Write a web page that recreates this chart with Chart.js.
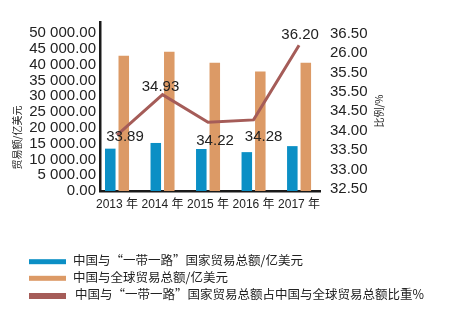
<!DOCTYPE html>
<html>
<head>
<meta charset="utf-8">
<script src="https://cdn.jsdelivr.net/npm/chart.js@4.4.1/dist/chart.umd.min.js"></script>
<style>
  html, body { margin: 0; padding: 0; background: #fff; }
  canvas { display: block; }
</style>
</head>
<body>
<canvas id="tradeChart" width="471" height="327"></canvas>
<script>
const years = [2013, 2014, 2015, 2016, 2017];
const beltRoadTrade = [13400, 15200, 13300, 12300, 14200];   // 亿美元
const globalTrade = [42800, 44100, 40600, 37800, 40600];     // 亿美元
const beltRoadShare = [33.89, 34.93, 34.22, 34.28, 36.20];   // %
const tradeTicks = [0, 5000, 10000, 15000, 20000, 25000, 30000, 35000, 40000, 45000, 50000];
const shareTickLabels = ["36.50", "26.00", "35.50", "35.50", "34.50", "34.00", "33.50", "33.00", "32.50"];
const seriesNames = [
    "中国与“一带一路”国家贸易总额/亿美元",
    "中国与全球贸易总额/亿美元",
    "中国与“一带一路”国家贸易总额占中国与全球贸易总额比重%"
];
const axisTitles = ["贸易额/亿美元", "比例/%"];

const BLUE = "#0b8fc5";
const ORANGE = "#dc9a66";
const RED = "#a55c58";
const INK = "#222";
const NUM_FONT = "'Liberation Sans', Arial, 'Noto Sans CJK SC', sans-serif";
const CJK_FONT = "'Noto Sans CJK SC', sans-serif";

// where each share value sits relative to its point
const shareLabelOffset = [[8, 2], [-2, -8], [7, 19], [10, 17], [1, -10]];

function thousands(v) {
    const [i, d] = v.toFixed(2).split(".");
    return i.replace(/\B(?=(\d{3})+(?!\d))/g, " ") + "." + d;
}

const points = arr => years.map((x, i) => ({ x: x, y: arr[i] }));

// value labels on the share line
const shareLabels = {
    id: "shareLabels",
    afterDatasetsDraw(chart) {
        const meta = chart.getDatasetMeta(2);
        const ctx = chart.ctx;
        ctx.save();
        ctx.font = "15px " + NUM_FONT;
        ctx.fillStyle = INK;
        ctx.textAlign = "center";
        ctx.textBaseline = "middle";
        meta.data.forEach((pt, i) => {
            const [dx, dy] = shareLabelOffset[i];
            ctx.fillText(beltRoadShare[i].toFixed(2), pt.x + dx, pt.y + dy);
        });
        ctx.restore();
    }
};

// rotated axis titles + stacked legend under the plot
const extras = {
    id: "extras",
    afterDraw(chart) {
        const ctx = chart.ctx;
        ctx.save();
        ctx.fillStyle = INK;
        ctx.font = "10px " + CJK_FONT;
        ctx.textAlign = "center";
        ctx.textBaseline = "middle";
        [[17.5, 137.5], [379, 111]].forEach(([x, y], i) => {
            ctx.save();
            ctx.translate(x, y);
            ctx.rotate(-Math.PI / 2);
            ctx.fillText(axisTitles[i], 0, 0);
            ctx.restore();
        });

        const rows = [261.7, 278.3, 296];
        const colors = [BLUE, ORANGE, RED];
        ctx.font = "12.5px " + CJK_FONT;
        ctx.textAlign = "left";
        rows.forEach((y, i) => {
            const h = i === 2 ? 6 : 5;
            ctx.fillStyle = colors[i];
            ctx.fillRect(29, y - h / 2, 37, h);
            ctx.fillStyle = INK;
            ctx.fillText(seriesNames[i], i === 2 ? 75 : 73, y - 1.5);
        });
        ctx.restore();
    }
};

new Chart(document.getElementById("tradeChart"), {
    type: "bar",
    data: {
        datasets: [
            {
                label: seriesNames[0],
                data: points(beltRoadTrade),
                backgroundColor: BLUE,
                yAxisID: "y",
                categoryPercentage: 0.593,
                barPercentage: 0.78,
                order: 1
            },
            {
                label: seriesNames[1],
                data: points(globalTrade),
                backgroundColor: ORANGE,
                yAxisID: "y",
                categoryPercentage: 0.593,
                barPercentage: 0.78,
                order: 1
            },
            {
                type: "line",
                label: seriesNames[2],
                data: points(beltRoadShare),
                yAxisID: "yShare",
                borderColor: RED,
                backgroundColor: RED,
                borderWidth: 3,
                pointRadius: 0,
                tension: 0,
                order: 0
            }
        ]
    },
    options: {
        responsive: false,
        animation: false,
        layout: { padding: { top: 22, bottom: 106, left: 0, right: 0 } },
        plugins: {
            legend: { display: false },
            tooltip: { enabled: false }
        },
        scales: {
            x: {
                type: "linear",
                min: 2012.626,
                max: 2017.46,
                offset: false,
                grid: { display: false, drawTicks: false },
                border: { display: true, color: "#1a1a1a", width: 2.5 },
                ticks: {
                    stepSize: 1,
                    includeBounds: false,
                    autoSkip: false,
                    maxRotation: 0,
                    padding: 6,
                    color: INK,
                    font: { family: NUM_FONT, size: 12 },
                    callback: v => v + " 年"
                },
                afterFit: s => { s.height = 30; }
            },
            y: {
                position: "left",
                min: 0,
                max: 53480,
                grid: { display: false, drawTicks: false },
                border: { display: true, color: "#1a1a1a", width: 2.5 },
                ticks: {
                    autoSkip: false,
                    padding: 4,
                    color: INK,
                    font: { family: NUM_FONT, size: 15, lineHeight: 1 },
                    callback: v => thousands(v)
                },
                afterBuildTicks: s => { s.ticks = tradeTicks.map(v => ({ value: v })); },
                afterFit: s => { s.width = 100; }
            },
            yShare: {
                position: "right",
                min: 32.45,
                max: 36.8,
                grid: { display: false, drawTicks: false },
                border: { display: false },
                ticks: {
                    stepSize: 0.5,
                    includeBounds: false,
                    autoSkip: false,
                    maxTicksLimit: 20,
                    padding: 10,
                    color: INK,
                    font: { family: NUM_FONT, size: 15, lineHeight: 1 },
                    callback: (v, i, t) => shareTickLabels[t.length - 1 - i]
                },
                afterFit: s => { s.width = 151; }
            }
        }
    },
    plugins: [shareLabels, extras]
});
</script>
</body>
</html>
